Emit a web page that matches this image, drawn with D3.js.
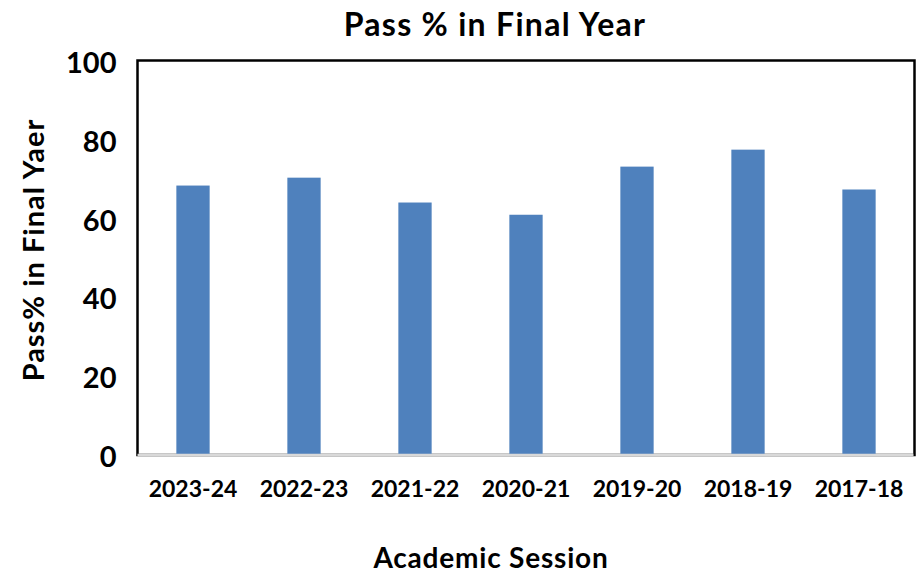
<!DOCTYPE html>
<html>
<head>
<meta charset="utf-8">
<script src="https://cdn.jsdelivr.net/npm/d3@7"></script>
<style>
  body { margin: 0; background: #fff; }
  text { font-family: Lato, "Open Sans", sans-serif; font-weight: bold; fill: #000; }
</style>
</head>
<body>
<svg id="chart"></svg>
<script>
/* data */
var sessions = ["2023-24", "2022-23", "2021-22", "2020-21", "2019-20", "2018-19", "2017-18"]
var passPct = [68.3, 70.3, 64.0, 60.9, 73.1, 77.4, 67.3]
var yTicks = [0, 20, 40, 60, 80, 100]

var W = 917, H = 573
var plotLeft = 137.5, plotRight = 914.5, plotTop = 60.5, plotBottom = 455

var svg = d3.select("#chart").attr("width", W).attr("height", H)

var x = d3.scaleBand()
    .domain(sessions)
    .range([plotLeft, plotRight])
    .paddingInner(0.7)
    .paddingOuter(0.35)

var y = d3.scaleLinear()
    .domain([0, 100])
    .range([plotBottom, plotTop])

/* frame of the plot area */
svg.append("rect")
    .attr("x", plotLeft)
    .attr("y", plotTop)
    .attr("width", plotRight - plotLeft)
    .attr("height", plotBottom - plotTop)
    .attr("fill", "none")
    .attr("stroke", "#000")
    .attr("stroke-width", 2.5)

/* bars */
svg.append("g")
    .selectAll("rect")
    .data(passPct)
    .enter()
    .append("rect")
    .attr("x", (d, i) => x(sessions[i]))
    .attr("y", d => y(d))
    .attr("width", x.bandwidth())
    .attr("height", d => y(0) - y(d))
    .attr("fill", "#4f81bd")

/* x axis line (grey) */
svg.append("line")
    .attr("x1", plotLeft)
    .attr("x2", plotRight - 1)
    .attr("y1", plotBottom)
    .attr("y2", plotBottom)
    .attr("stroke", "#d9d9d9")
    .attr("stroke-width", 2.5)

/* y tick labels */
var yAxis = svg.append("g")
    .attr("transform", "translate(" + (plotLeft - 21) + ",2.5)")
    .call(d3.axisLeft(y).tickValues(yTicks).tickSize(0).tickPadding(0))
yAxis.select(".domain").remove()
yAxis.selectAll("text")
    .attr("font-size", 29)
    .attr("font-family", null)
    .attr("fill", null)

/* x tick labels */
var xAxis = svg.append("g")
    .attr("transform", "translate(0," + (plotBottom + 26) + ")")
    .call(d3.axisBottom(x).tickSize(0).tickPadding(0))
xAxis.select(".domain").remove()
xAxis.selectAll("text")
    .attr("font-size", 23)
    .attr("font-family", null)
    .attr("fill", null)
    .attr("dy", "0.71em")

/* titles */
svg.append("text")
    .attr("x", 495)
    .attr("y", 36)
    .attr("text-anchor", "middle")
    .attr("font-size", 32)
    .attr("letter-spacing", 1.3)
    .text("Pass % in Final Year")

svg.append("text")
    .attr("x", 491)
    .attr("y", 568)
    .attr("text-anchor", "middle")
    .attr("font-size", 28)
    .attr("letter-spacing", 0.8)
    .text("Academic Session")

svg.append("text")
    .attr("transform", "translate(44,250) rotate(-90)")
    .attr("text-anchor", "middle")
    .attr("font-size", 29)
    .attr("letter-spacing", 1)
    .text("Pass% in Final Yaer")
</script>
</body>
</html>
